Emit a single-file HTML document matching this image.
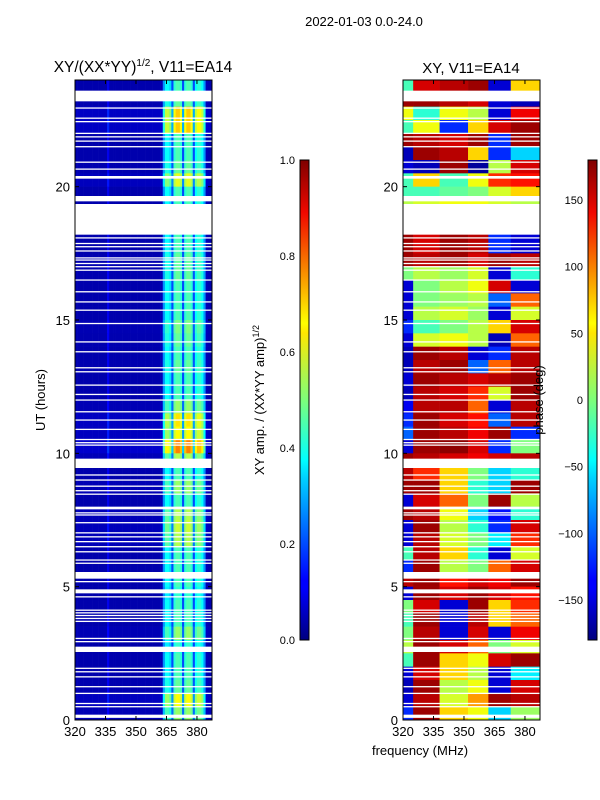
<!DOCTYPE html>
<html><head><meta charset="utf-8">
<style>
body{margin:0;background:#fff;}
svg{display:block;font-family:"Liberation Sans",sans-serif;}
</style></head>
<body>
<svg id="fig" width="600" height="800" viewBox="0 0 600 800" xmlns="http://www.w3.org/2000/svg">
<defs>
<linearGradient id="jet" x1="0" y1="1" x2="0" y2="0">
<stop offset="0" stop-color="#00007f"/><stop offset="0.11" stop-color="#0000ff"/><stop offset="0.125" stop-color="#0000ff"/>
<stop offset="0.34" stop-color="#00d4ff"/><stop offset="0.375" stop-color="#0ff"/><stop offset="0.5" stop-color="#7dff7a"/>
<stop offset="0.64" stop-color="#ffe600"/><stop offset="0.66" stop-color="#ff0"/><stop offset="0.89" stop-color="#f10800"/><stop offset="1" stop-color="#7f0000"/>
</linearGradient>
</defs>
<text x="364" y="26" font-size="13" text-anchor="middle">2022-01-03 0.0-24.0</text>
<text x="143" y="72" font-size="15.5" text-anchor="middle">XY/(XX*YY)<tspan font-size="10" dy="-6">1/2</tspan><tspan dy="6">, V11=EA14</tspan></text>
<text x="471" y="73" font-size="15" text-anchor="middle">XY, V11=EA14</text>
<g id="ampPanel"></g>
<g id="phasePanel"></g>
<g id="axes"></g>
<text x="45" y="400" font-size="13" text-anchor="middle" transform="rotate(-90 45 400)">UT (hours)</text>
<text x="420" y="755" font-size="13" text-anchor="middle">frequency (MHz)</text>
<rect x="300" y="160" width="9" height="480" fill="url(#jet)" stroke="#000" stroke-width="1"/>
<text x="264" y="400" font-size="13" text-anchor="middle" transform="rotate(-90 264 400)">XY amp. / (XX*YY amp)<tspan font-size="9" dy="-5">1/2</tspan></text>
<rect x="588" y="160" width="9" height="480" fill="url(#jet)" stroke="#000" stroke-width="1"/>
<text x="543" y="400" font-size="13" text-anchor="middle" transform="rotate(-90 543 400)">phase (deg)</text>
</svg>
<script>
// ---- data ----
const ampChannelProfile=[0.05,0.05,0.05,0.05,0.05,0.05,0.05,0.05,0.05,0.05,0.05,0.05,0.05,0.05,0.05,0.12,0.05,0.05,0.05,0.05,0.05,0.05,0.05,0.05,0.05,0.05,0.05,0.05,0.05,0.05,0.05,0.05,0.05,0.05,0.05,0.05,0.05,0.05,0.05,0.05,0.06,
0.3,0.42,0.42,0.38,0.22,0.46,0.5,0.5,0.46,0.22,0.46,0.5,0.5,0.46,0.22,0.42,0.46,0.46,0.42,0.3,0.06,0.05,0.05];
const ampRowGain=[0.9,0.95,1.35,1.35,0.9,0.9,0.95,1.2,0.9,0.9,0.9,0.9,0.9,0.95,0.95,0.9,0.9,0.9,1.0,0.95,0.9,0.95,0.9,0.9,1.05,1.3,1.25,1.5,1.1,0.9,1.05,0.9,1.1,1.15,1.1,0.9,0.9,0.9,0.85,0.9,0.9,1.05,0.85,0.9,0.9,0.95,1.25,1.05];
const phaseSegEdges=[320,325,338,352,362,373,387.4];
const phaseRows=[
[-20,150,160,170,-150,60],[170,170,160,150,-150,-160],[40,-30,40,20,-150,140],[-20,40,-120,60,150,170],
[170,160,150,170,-120,170],[-160,170,160,60,-120,-60],[-150,-160,170,-170,20,150],[-20,60,-20,40,120,130],
[-20,-20,-10,0,30,60],[20,30,40,40,30,20],[20,30,40,40,30,20],[170,150,170,160,-120,-150],
[170,150,170,160,-120,-150],[170,160,170,150,170,160],[0,20,10,30,-150,-30],[-150,0,20,40,150,-150],
[-150,0,10,20,-100,100],[-150,20,30,10,-150,30],[-120,-20,0,20,60,150],[-150,30,40,20,-160,100],
[-160,170,160,-150,-120,160],[-160,160,170,-100,100,160],[-150,170,160,150,160,170],[-160,160,150,120,30,170],
[-140,160,160,100,-150,160],[-120,170,150,130,-100,160],[-100,170,160,140,170,-120],[-150,170,175,150,-120,0],
[170,160,150,140,150,160],[160,120,60,0,-60,-30],[170,170,60,-30,-60,170],[-150,150,100,0,170,20],
[170,160,40,-60,-130,-30],[-150,170,20,-30,-120,150],[-150,160,30,0,-50,120],[-20,160,60,-30,-150,30],
[-120,170,20,0,100,150],[160,170,130,150,140,170],[-150,170,150,170,150,130],[0,150,-150,170,60,120],
[-20,170,-150,160,60,100],[0,160,-150,150,-150,140],[20,170,150,100,0,30],[-20,170,60,40,150,170],
[-150,150,60,20,-150,-50],[-160,170,20,40,-150,150],[-150,160,30,80,170,160],[-120,170,60,40,-60,10]];
const flagStart=[23.2,20.3,19.45,18.2,9.45,7.9,5.3,4.75,2.55,0.08];
const flagEnd=[23.6,20.4,19.65,19.35,9.8,8.0,5.55,4.9,2.75,0.2];
const thinFlags=[22.95,22.57,22.44,22.0,21.87,21.71,21.5,20.92,20.66,18.08,17.87,17.75,17.59,17.33,17.25,17.12,17.0,16.87,16.5,16.06,15.68,15.37,14.87,14.18,13.81,13.21,13.06,12.56,12.21,12.0,
11.56,11.25,10.9,10.52,10.4,10.31,9.19,9.0,8.77,8.6,8.47,7.77,7.69,7.4,7.02,6.87,6.69,6.5,6.31,6.0,5.88,5.19,4.62,4.12,4.02,3.92,3.81,3.7,3.06,2.94,1.94,1.81,1.62,1.25,1.0,0.62,0.5];
const xTicks=[320,335,350,365,380];
const yTicks=[0,5,10,15,20];
const ampTicks=[0.0,0.2,0.4,0.6,0.8,1.0];
const phaseTicks=[-150,-100,-50,0,50,100,150];
// ---- scales ----
const NS='http://www.w3.org/2000/svg';
const F0=320,F1=387.4,T0=0,T1=24,Y0=720,Y1=80;
const yS=h=>Y0-(h-T0)/(T1-T0)*(Y0-Y1);
const xS=(f,left)=>left+(f-F0)/(F1-F0)*137;
function jet(v){v=Math.max(0,Math.min(1,v));
 const r=Math.max(0,Math.min(1,1.5-Math.abs(4*v-3))),g=Math.max(0,Math.min(1,1.5-Math.abs(4*v-2))),b=Math.max(0,Math.min(1,1.5-Math.abs(4*v-1)));
 return `rgb(${Math.round(r*255)},${Math.round(g*255)},${Math.round(b*255)})`;}
function mk(tag,attrs,parent){const e=document.createElementNS(NS,tag);for(const k in attrs)e.setAttribute(k,attrs[k]);parent.appendChild(e);return e;}
const amp=document.getElementById('ampPanel'),ph=document.getElementById('phasePanel'),ax=document.getElementById('axes');
const nr=ampRowGain.length,nc=ampChannelProfile.length,dh=(T1-T0)/nr,df=(F1-F0)/nc;
for(let r=0;r<nr;r++){const hTop=T1-r*dh;
 for(let c=0;c<nc;c++){const x=xS(F0+c*df,75),x2=xS(F0+(c+1)*df,75);
  const el=mk('rect',{x:x,y:yS(hTop),width:x2-x+0.3,height:yS(hTop-dh)-yS(hTop)+0.3,fill:jet(ampChannelProfile[c]*ampRowGain[r])},amp);
  
  }}
for(let r=0;r<phaseRows.length;r++){const hTop=T1-r*dh;
 for(let s=0;s<phaseSegEdges.length-1;s++){const x=xS(phaseSegEdges[s],403),x2=xS(phaseSegEdges[s+1],403);
  const el=mk('rect',{x:x,y:yS(hTop),width:x2-x+0.3,height:yS(hTop-dh)-yS(hTop)+0.3,fill:jet((phaseRows[r][s]+180)/360)},ph);
  
  }}
[75,403].forEach(L=>{
 for(let i=0;i<flagStart.length;i++){const el=mk('rect',{x:L,y:yS(flagEnd[i]),width:137,height:yS(flagStart[i])-yS(flagEnd[i]),fill:'#fff'},ax);
  
  }
 thinFlags.forEach(h=>{const el=mk('rect',{x:L,y:yS(h)-0.6,width:137,height:1.3,fill:'#fff'},ax);
  
  });
 const fr=mk('rect',{x:L,y:80,width:137,height:640,fill:'none',stroke:'#000','stroke-width':1},ax);
 
 
 xTicks.forEach(t=>{const x=xS(t,L);mk('line',{x1:x,x2:x,y1:720,y2:716,stroke:'#000'},ax);mk('line',{x1:x,x2:x,y1:80,y2:84,stroke:'#000'},ax);
  const tx=mk('text',{x:x,y:736,'font-size':13,'text-anchor':'middle'},ax);tx.textContent=t;
  
  });
 yTicks.forEach(t=>{const y=yS(t);mk('line',{x1:L,x2:L+4,y1:y,y2:y,stroke:'#000'},ax);mk('line',{x1:L+137,x2:L+133,y1:y,y2:y,stroke:'#000'},ax);
  const tx=mk('text',{x:L-5,y:y+5,'font-size':13,'text-anchor':'end'},ax);tx.textContent=t;
  
  });
});
ampTicks.forEach(t=>{const y=640-t*480;mk('line',{x1:300,x2:303,y1:y,y2:y,stroke:'#000'},ax);mk('line',{x1:309,x2:306,y1:y,y2:y,stroke:'#000'},ax);
 const tx=mk('text',{x:295,y:y+4,'font-size':11,'text-anchor':'end'},ax);tx.textContent=t.toFixed(1);
 
 });
phaseTicks.forEach(t=>{const y=160+(180-t)/360*480;mk('line',{x1:588,x2:591,y1:y,y2:y,stroke:'#000'},ax);mk('line',{x1:597,x2:594,y1:y,y2:y,stroke:'#000'},ax);
 const tx=mk('text',{x:583,y:y+4,'font-size':11,'text-anchor':'end'},ax);tx.textContent=t<0?'\u2212'+(-t):t;
 
 });
</script>
</body></html>
